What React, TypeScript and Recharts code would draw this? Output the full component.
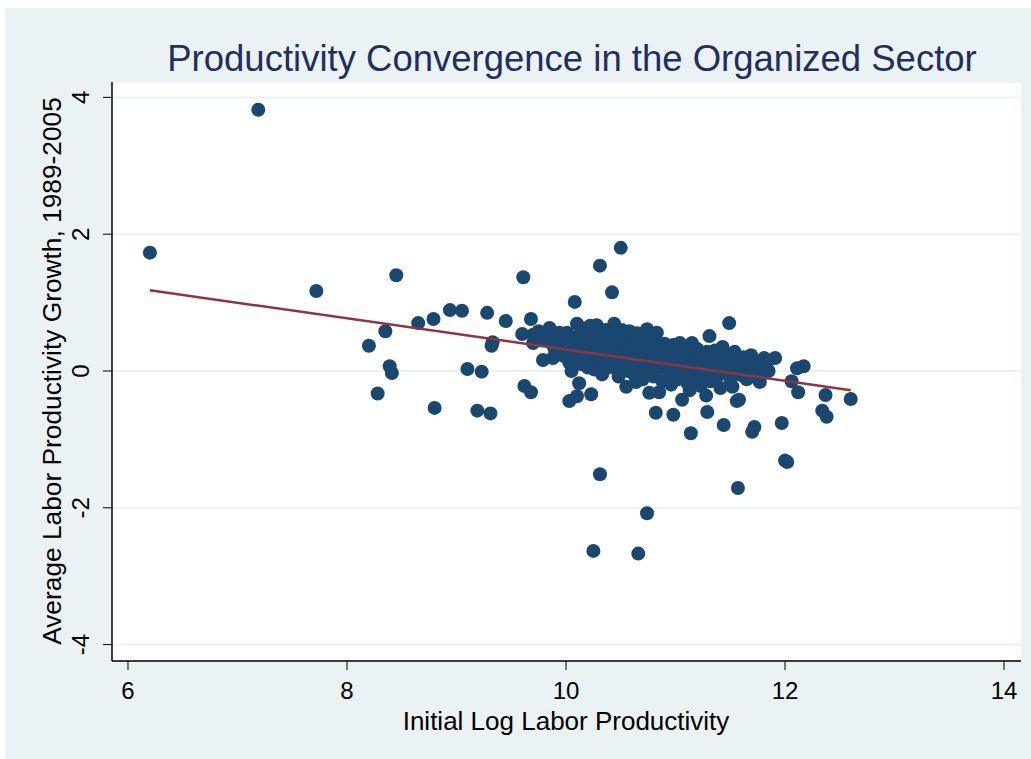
import { ScatterChart, Scatter, XAxis, YAxis, CartesianGrid } from 'recharts';

// [initial log labor productivity, avg labor productivity growth 1989-2005]
const farLeft: number[][] = [
  [6.2, 1.73], [7.19, 3.82], [7.72, 1.17],
  [8.2, 0.37], [8.28, -0.33], [8.35, 0.58], [8.39, 0.07], [8.41, -0.03], [8.45, 1.4],
  [8.65, 0.7], [8.79, 0.76], [8.8, -0.54], [8.94, 0.89], [9.05, 0.88],
  [9.1, 0.03], [9.19, -0.58], [9.23, -0.01], [9.28, 0.85], [9.31, -0.62],
  [9.32, 0.37], [9.33, 0.42], [9.45, 0.73],
];

const upperOutliers: number[][] = [
  [9.61, 1.37], [10.08, 1.01], [10.31, 1.54], [10.42, 1.15], [10.5, 1.8],
  [9.68, 0.76], [11.49, 0.7], [11.31, 0.51],
];

const lowerOutliers: number[][] = [
  [10.31, -1.51], [11.57, -1.71], [12.02, -1.33], [12.0, -1.31],
  [10.74, -2.08], [10.25, -2.63], [10.66, -2.67],
  [10.82, -0.61], [10.98, -0.64], [11.29, -0.6], [11.44, -0.79], [11.14, -0.91],
  [11.72, -0.82], [11.7, -0.89], [11.97, -0.76],
];

const rightTail: number[][] = [
  [11.91, 0.19], [12.11, 0.04], [12.17, 0.07], [12.06, -0.15], [12.12, -0.31],
  [12.37, -0.35], [12.6, -0.41], [12.34, -0.58], [12.38, -0.67],
];

const clusterWest: number[][] = [
  [9.6, 0.54], [9.62, -0.22], [9.68, -0.31], [9.7, 0.53], [9.7, 0.41], [9.75, 0.58],
  [9.78, 0.45], [9.79, 0.16], [9.82, 0.5], [9.85, 0.63], [9.88, 0.38], [9.88, 0.19],
  [9.9, 0.3], [9.92, 0.52], [9.94, 0.56], [9.96, 0.44], [9.97, 0.26], [9.98, 0.22],
  [10.01, 0.56], [10.03, 0.12], [10.03, -0.44], [10.05, 0.4], [10.05, 0.0], [10.08, 0.3],
  [10.1, 0.69], [10.1, 0.5], [10.1, -0.37], [10.12, 0.22], [10.12, -0.18], [10.14, 0.1],
  [10.15, 0.44], [10.16, 0.62], [10.17, 0.34], [10.18, 0.58], [10.2, 0.05], [10.2, 0.26],
  [10.22, 0.48], [10.22, 0.66], [10.23, -0.34], [10.24, 0.38], [10.25, 0.15], [10.26, 0.02],
  [10.28, 0.67], [10.28, 0.3], [10.3, 0.52], [10.3, 0.2], [10.32, 0.42], [10.33, -0.05],
  [10.34, 0.1], [10.35, 0.34], [10.35, 0.15], [10.36, 0.6], [10.37, 0.24], [10.38, 0.46],
  [10.39, 0.05], [10.4, 0.3],
];

const clusterMid: number[][] = [
  [10.41, 0.4], [10.42, 0.18], [10.44, 0.69], [10.44, 0.52], [10.45, 0.28], [10.45, 0.6],
  [10.46, 0.05], [10.47, 0.36], [10.48, -0.08], [10.49, 0.46], [10.5, 0.2], [10.51, 0.6],
  [10.52, 0.32], [10.53, 0.1], [10.54, 0.4], [10.55, -0.23], [10.55, 0.25], [10.56, 0.52],
  [10.57, 0.0], [10.58, 0.34], [10.58, 0.58], [10.6, 0.15], [10.61, 0.45], [10.62, -0.05],
  [10.62, 0.42], [10.63, 0.28], [10.64, -0.16], [10.65, 0.55], [10.66, 0.2], [10.67, 0.38],
  [10.68, 0.05], [10.7, 0.3], [10.7, -0.12], [10.72, 0.48], [10.73, 0.16], [10.74, 0.61],
  [10.75, 0.02], [10.76, -0.32], [10.77, 0.35], [10.78, 0.22], [10.8, -0.08], [10.8, 0.44],
  [10.82, 0.12], [10.83, 0.56], [10.84, 0.28], [10.85, -0.31], [10.86, 0.05], [10.87, 0.36],
  [10.88, -0.15], [10.89, 0.2],
];

const clusterEast: number[][] = [
  [10.9, 0.4], [10.91, 0.1], [10.93, -0.05], [10.94, 0.28], [10.95, 0.32], [10.96, -0.2],
  [10.97, 0.15], [10.98, 0.38], [11.0, 0.02], [11.01, 0.25], [11.02, -0.12], [11.03, 0.35],
  [11.04, 0.41], [11.05, 0.08], [11.06, -0.42], [11.07, 0.2], [11.08, -0.02], [11.1, 0.3],
  [11.11, -0.18], [11.12, 0.12], [11.13, -0.28], [11.14, 0.24], [11.15, 0.41], [11.16, 0.0],
  [11.18, 0.18], [11.19, -0.1], [11.2, 0.32], [11.22, 0.06], [11.23, -0.22], [11.24, 0.22],
  [11.26, 0.1], [11.27, -0.05], [11.28, -0.36], [11.29, 0.28], [11.3, 0.02],
  [11.32, -0.15], [11.33, 0.18], [11.35, 0.05], [11.36, 0.3], [11.38, -0.08], [11.4, 0.2],
  [11.41, -0.25], [11.43, 0.35], [11.44, 0.08], [11.46, -0.02], [11.48, 0.22], [11.5, -0.12],
  [11.52, -0.23], [11.53, 0.12], [11.54, 0.28], [11.55, 0.0], [11.56, -0.44], [11.58, -0.42],
  [11.58, 0.15], [11.6, -0.06], [11.62, 0.2], [11.63, 0.04], [11.65, -0.12], [11.66, 0.1],
  [11.68, 0.0], [11.69, 0.23], [11.7, -0.08], [11.72, 0.14], [11.74, 0.02], [11.76, -0.1],
  [11.77, -0.16], [11.78, 0.08], [11.8, -0.04], [11.81, 0.19], [11.83, 0.1], [11.85, 0.0],
];

// fitted line end points
const fitX = [6.2, 12.6];
const fitY = [1.18, -0.28];

const xTicks = [6, 8, 10, 12, 14];
const yTicks = [-4, -2, 0, 2, 4];

const W = 1026;
const H = 751;
const FONT = '"Liberation Sans", Arial, sans-serif';
const NAVY = '#1A476F';

const points = [...farLeft, ...upperOutliers, ...lowerOutliers, ...rightTail, ...clusterWest, ...clusterMid, ...clusterEast]
  .map(([x, y]) => ({ x, y }));
const fitData = fitX.map((x, i) => ({ x, y: fitY[i] }));

const Dot = (props: any) => <circle cx={props.cx} cy={props.cy} r={7} fill={NAVY} />;

const XTick = ({ x, y, payload }: any) => (
  <text x={x} y={y + 27} textAnchor="middle" fontSize={24} fontFamily={FONT} fill="#000">
    {payload.value}
  </text>
);

const YTick = ({ x, y, payload }: any) => (
  <text x={x - 14} y={y} transform={`rotate(-90, ${x - 14}, ${y})`} textAnchor="middle" fontSize={24} fontFamily={FONT} fill="#000">
    {payload.value}
  </text>
);

export default function App() {
  return (
    <>
      <style>{'body{margin:0;overflow:hidden;background:#fff}'}</style>
      <div style={{ position: 'absolute', left: 5, top: 8, width: W, height: H, background: '#EAF2F3' }}>
        <ScatterChart width={W} height={H} margin={{ top: 74, right: 10, bottom: 0, left: 0 }}>
          <CartesianGrid vertical={false} stroke="#EAF2F3" strokeWidth={2} fill="#fff" fillOpacity={1} />
          <XAxis
            type="number"
            dataKey="x"
            domain={[5.854, 14.155]}
            ticks={xTicks}
            allowDataOverflow
            height={98}
            tickSize={9}
            tickMargin={2}
            axisLine={{ stroke: '#000', strokeWidth: 1.5 }}
            tickLine={{ stroke: '#000' }}
            tick={<XTick />}
          />
          <YAxis
            type="number"
            dataKey="y"
            domain={[-4.24, 4.225]}
            ticks={yTicks}
            allowDataOverflow
            width={107}
            tickSize={9}
            tickMargin={0}
            axisLine={{ stroke: '#000', strokeWidth: 1.5 }}
            tickLine={{ stroke: '#000' }}
            tick={<YTick />}
          />
          <Scatter data={points} shape={<Dot />} isAnimationActive={false} />
          <Scatter
            data={fitData}
            line={{ stroke: '#90353B', strokeWidth: 2.5 }}
            shape={() => <g />}
            isAnimationActive={false}
          />
        </ScatterChart>
        <svg width={W} height={H} style={{ position: 'absolute', left: 0, top: 0, pointerEvents: 'none' }}>
          <text x={567} y={63} textAnchor="middle" fontSize={36.5} fontFamily={FONT} fill="#1F2F5E">
            Productivity Convergence in the Organized Sector
          </text>
          <text x={561} y={722} textAnchor="middle" fontSize={26} fontFamily={FONT} fill="#000">
            Initial Log Labor Productivity
          </text>
          <text x={56} y={363} transform="rotate(-90, 56, 363)" textAnchor="middle" fontSize={26.3} fontFamily={FONT} fill="#000">
            Average Labor Productivity Growth, 1989-2005
          </text>
        </svg>
      </div>
    </>
  );
}
